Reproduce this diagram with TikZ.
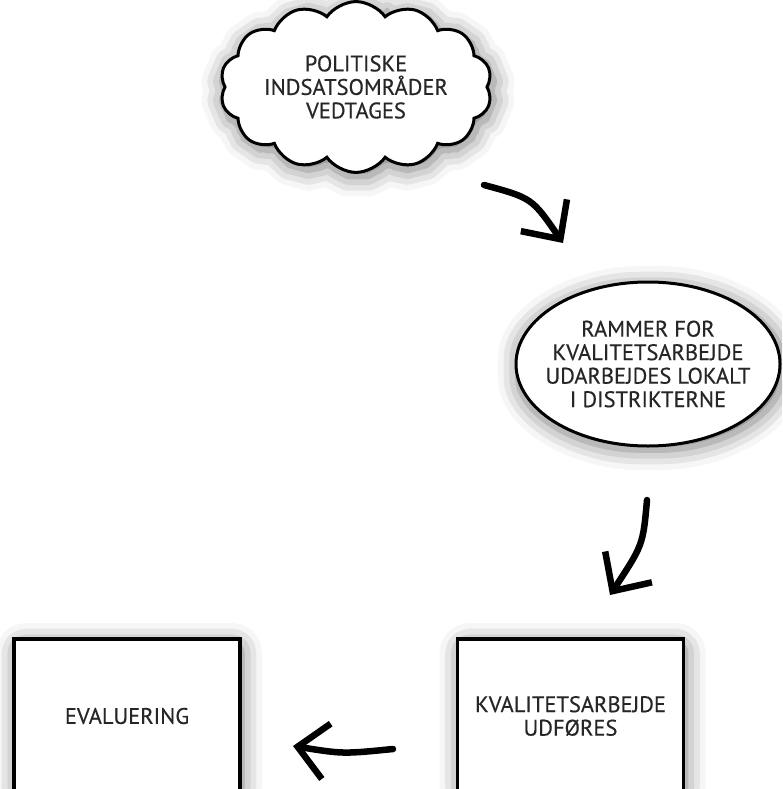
\documentclass[tikz,border=0pt]{standalone}
\usepackage{fontspec}
\setmainfont{PT Sans}[BoldFont={PT Sans}, BoldFeatures={FakeBold=0.4}]
\usetikzlibrary{arrows.meta,shapes.geometric,shapes.symbols,shadows.blur}

\begin{document}
\begin{tikzpicture}[x=1pt, y=-1pt,
    every node/.style={font=\fontsize{22.5}{23.5}\selectfont\bfseries, align=center, text=black!85},
    soft/.style={blur shadow={shadow xshift=2pt, shadow yshift=-4pt, shadow blur radius=20pt, shadow blur extra rounding=10pt, shadow opacity=55}},
    cloudbox/.style={cloud, cloud puffs=14, cloud puff arc=110, aspect=1.8, draw, line width=3pt, fill=white, inner sep=0pt, minimum width=272pt, minimum height=162pt, soft},
    ovalbox/.style={ellipse, draw, line width=3pt, fill=white, inner xsep=-30pt, inner ysep=-5pt, minimum width=264pt, minimum height=164pt, soft},
    planbox/.style={rectangle, draw, line width=3.5pt, fill=white, minimum width=226pt, minimum height=154pt, soft},
    handarrow/.style={line width=6.5pt, line cap=round, -{Straight Barb[length=29pt, width=56pt]}}]
  \useasboundingbox (0,0) rectangle (782,789);
  \clip (0,0) rectangle (782,789);
  % the four steps
  \node[cloudbox] (P) at (356,87) {POLITISKE\\INDSATSOMRÅDER\\VEDTAGES};
  \node[ovalbox] (R) at (648,364) {RAMMER FOR\\KVALITETSARBEJDE\\UDARBEJDES LOKALT\\I DISTRIKTERNE};
  \node[planbox] (K) at (570.5,716) {KVALITETSARBEJDE\\UDFØRES};
  \node[planbox] (E) at (127,716) {EVALUERING};
  % free arrow ends
  \coordinate (Ps) at (484,185);
  \coordinate (Rt) at (563,243);
  \coordinate (Rs) at (647,500);
  \coordinate (Kt) at (610,595);
  \coordinate (Ks) at (393,749);
  \coordinate (Et) at (293,746);
  \draw[handarrow] (Ps) .. controls (532,198) .. (Rt);
  \draw[handarrow] (Rs) .. controls (643,545) .. (Kt);
  \draw[handarrow] (Ks) .. controls (343,754) .. (Et);
\end{tikzpicture}
\end{document}
